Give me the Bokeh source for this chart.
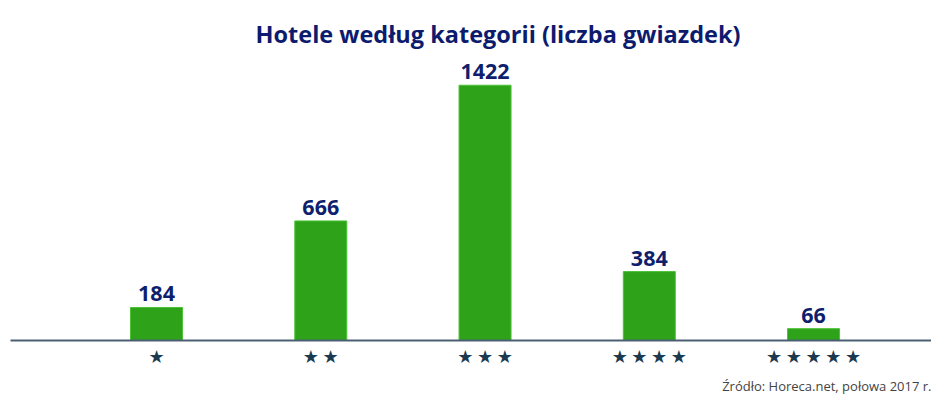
from bokeh.plotting import figure
from bokeh.models import Range1d, FixedTicker, Label, Title, ColumnDataSource, LabelSet
from bokeh.core.properties import value
from bokeh.embed import file_html
from bokeh.resources import INLINE

categories = ["★", "★\u2009★", "★\u2009★\u2009★", "★\u2009★\u2009★\u2009★", "★\u2009★\u2009★\u2009★\u2009★"]
values = [184, 666, 1422, 384, 66]
title_text = "Hotele według kategorii (liczba gwiazdek)"
source_text = "Źródło: Horeca.net, połowa 2017 r."

xs = list(range(len(categories)))
src = ColumnDataSource(dict(x=xs, v=values, lab=[str(v) for v in values]))

p = figure(width=931, height=400, output_backend="svg", toolbar_location=None,
           x_range=Range1d(-0.889, 4.718), y_range=Range1d(0, 1894),
           min_border_left=10, min_border_right=0, min_border_top=0, min_border_bottom=60)
p.outline_line_color = None
p.background_fill_color = "white"
p.border_fill_color = "white"
p.xgrid.visible = False
p.ygrid.visible = False
p.yaxis.visible = False

p.vbar(x="x", top="v", width=0.3166, bottom=0, source=src,
       fill_color="#2ea31a", line_color="#4cc236", line_width=1)

labels = LabelSet(x="x", y="v", text="lab", source=src, y_offset=6,
                  text_align="center", text_baseline="alphabetic",
                  text_font=value("Open Sans"), text_font_style="bold",
                  text_font_size="21.5px", text_color="#0f1f6e")
p.add_layout(labels)

ax = p.xaxis[0]
ax.ticker = FixedTicker(ticks=xs)
ax.major_label_overrides = {i: c for i, c in zip(xs, categories)}
ax.major_tick_line_color = None
ax.minor_tick_line_color = None
ax.major_tick_out = 0
ax.major_tick_in = 0
ax.axis_line_color = "#4a6072"
ax.axis_line_width = 2
ax.major_label_text_font = "DejaVu Sans"
ax.major_label_text_font_size = "18px"
ax.major_label_text_color = "#1c3a4f"
ax.major_label_standoff = 5

p.add_layout(Label(x=2.079, y=1710, text=title_text, text_align="center",
                   text_baseline="alphabetic", text_font="Open Sans",
                   text_font_style="bold", text_font_size="23.5px",
                   text_color="#0d1b6e"))

t = Title(text=source_text, align="right", text_font="Open Sans",
          text_font_style="normal", text_font_size="13px",
          text_color="#444444", standoff=10)
p.add_layout(t, "below")

open("out.html", "w").write(file_html(p, INLINE))
